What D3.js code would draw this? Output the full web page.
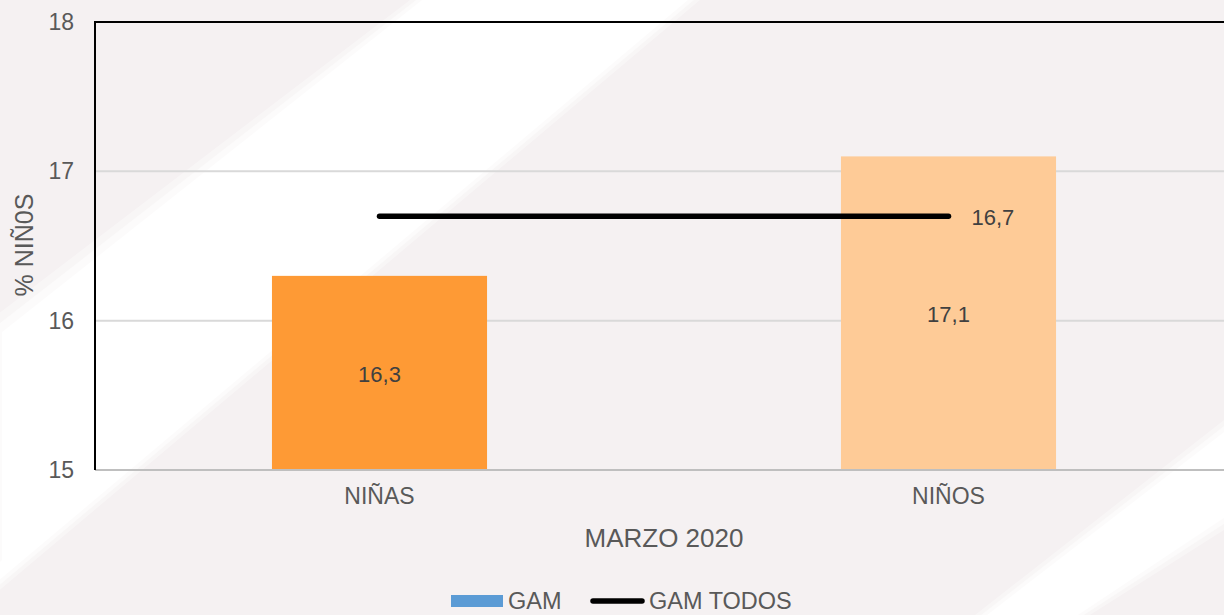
<!DOCTYPE html>
<html>
<head>
<meta charset="utf-8">
<script src="https://cdn.jsdelivr.net/npm/d3@7"></script>
<style>
  html, body { margin: 0; padding: 0; background: #f5f1f2; }
  svg { display: block; font-family: "Liberation Sans", Arial, sans-serif; }
</style>
</head>
<body>
<svg id="chart" width="1224" height="615"></svg>
<script>
const categories = ["NIÑAS", "NIÑOS"];
const gamValues = [16.3, 17.1];
const gamTodos = [16.7, 16.7];
const yTicks = [15, 16, 17, 18];
const barColors = ["#fe9a35", "#fecb97"];
const yTitle = "% NIÑ0S";
const xTitle = "MARZO 2020";
const legendLabels = ["GAM", "GAM TODOS"];

const fmt = v => String(v).replace(".", ",");

const svg = d3.select("#chart");
const W = 1224, H = 615;
const m = { left: 95, top: 22, right: -9 };

// background with soft diagonal white bands (layered for soft edges)
svg.append("rect").attr("width", W).attr("height", H).attr("fill", "#f5f1f2");
const bandLayers = [
  { off: 10, op: 0.35 },
  { off: 4, op: 0.5 },
  { off: -2, op: 0.85 }
];
const bandA = (o) => [[420 - o, 0], [690 + o, 0], [-40 + o, 615], [-60 - o, 615], [0 - o, 560], [0 - o, 330 - o]];
const bandB = (o) => [[1224, 430 - o], [1224, 520 + o], [1080 + o, 615], [985 - o, 615]];
const bg = svg.append("g");
bandLayers.forEach(L => {
  bg.append("g").selectAll("path").data([bandA(L.off), bandB(L.off)]).join("path")
    .attr("d", d => "M" + d.map(p => p.join(",")).join("L") + "Z")
    .attr("fill", "#ffffff").attr("fill-opacity", L.op);
});

const x = d3.scaleBand().domain(categories)
  .range([m.left, W - m.right]).paddingInner(0.622).paddingOuter(0.311);
const y = d3.scaleLinear().domain([15, 18]).range([470, 22]);

// gridlines
svg.append("g").selectAll("line").data(yTicks.filter(t => t > 15 && t < 18)).join("line")
  .attr("x1", m.left).attr("x2", W)
  .attr("y1", d => y(d)).attr("y2", d => y(d))
  .attr("stroke", "#d9d9d9").attr("stroke-width", 2);

// bars
svg.append("g").selectAll("rect").data(categories).join("rect")
  .attr("x", d => x(d)).attr("width", x.bandwidth())
  .attr("y", (d, i) => y(gamValues[i]))
  .attr("height", (d, i) => y(15) - y(gamValues[i]))
  .attr("fill", (d, i) => barColors[i]);

// axes lines
svg.append("line").attr("x1", m.left).attr("x2", W).attr("y1", y(15)).attr("y2", y(15))
  .attr("stroke", "#bfbfbf").attr("stroke-width", 2);
svg.append("line").attr("x1", m.left).attr("x2", W).attr("y1", y(18)).attr("y2", y(18))
  .attr("stroke", "#000").attr("stroke-width", 2);
svg.append("line").attr("x1", m.left).attr("x2", m.left).attr("y1", y(18) - 1).attr("y2", y(15))
  .attr("stroke", "#000").attr("stroke-width", 2);

// y axis tick labels
const yAxis = d3.axisLeft(y).tickValues(yTicks).tickSize(0).tickPadding(21).tickFormat(d3.format("d"));
const ya = svg.append("g").attr("transform", `translate(${m.left},0)`).call(yAxis);
ya.select(".domain").remove();
ya.selectAll("text").attr("font-size", 23).attr("fill", "#595959")
  .attr("font-family", "Liberation Sans, Arial, sans-serif");

// x axis tick labels
const xAxis = d3.axisBottom(x).tickSize(0).tickPadding(18);
const xa = svg.append("g").attr("transform", `translate(0,${y(15)})`).call(xAxis);
xa.select(".domain").remove();
xa.selectAll("text").attr("font-size", 23).attr("fill", "#595959")
  .attr("font-family", "Liberation Sans, Arial, sans-serif");

// line series
const line = d3.line().x((d, i) => x(categories[i]) + x.bandwidth() / 2).y(d => y(d));
svg.append("path").datum(gamTodos).attr("d", line)
  .attr("fill", "none").attr("stroke", "#000").attr("stroke-width", 5.5)
  .attr("stroke-linecap", "round");

// data labels for bars
svg.append("g").selectAll("text").data(categories).join("text")
  .attr("x", d => x(d) + x.bandwidth() / 2)
  .attr("y", (d, i) => (y(gamValues[i]) + y(15)) / 2 + 9)
  .attr("text-anchor", "middle").attr("font-size", 22).attr("fill", "#404040")
  .text((d, i) => fmt(gamValues[i]));

// line label (last point)
svg.append("text")
  .attr("x", x(categories[1]) + x.bandwidth() / 2 + 23)
  .attr("y", y(gamTodos[1]) + 9)
  .attr("font-size", 22).attr("fill", "#404040")
  .text(fmt(gamTodos[1]));

// axis titles
svg.append("text").attr("x", (m.left + (W - m.right)) / 2).attr("y", 547)
  .attr("text-anchor", "middle").attr("font-size", 26).attr("fill", "#595959").text(xTitle);
svg.append("text").attr("transform", `translate(33,245) rotate(-90)`)
  .attr("text-anchor", "middle").attr("font-size", 25).attr("fill", "#595959").text(yTitle);

// legend
const lg = svg.append("g").attr("transform", "translate(0,-5)");
lg.append("rect").attr("x", 451).attr("y", 600).attr("width", 52).attr("height", 12).attr("fill", "#5b9bd5");
lg.append("text").attr("x", 508).attr("y", 614).attr("font-size", 23.5).attr("fill", "#595959").text(legendLabels[0]);
lg.append("line").attr("x1", 593).attr("x2", 642).attr("y1", 606).attr("y2", 606)
  .attr("stroke", "#000").attr("stroke-width", 5.5).attr("stroke-linecap", "round");
lg.append("text").attr("x", 649).attr("y", 614).attr("font-size", 23.5).attr("fill", "#595959").text(legendLabels[1]);
</script>
</body>
</html>
